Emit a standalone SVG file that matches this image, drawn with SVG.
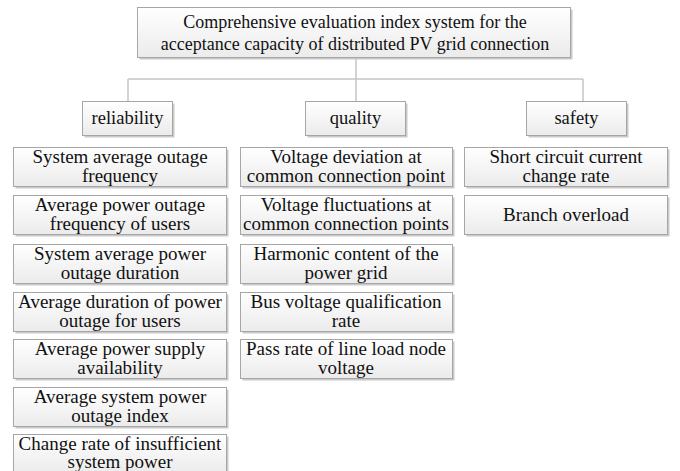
<svg xmlns="http://www.w3.org/2000/svg" width="680" height="471" viewBox="0 0 680 471" font-family="'Liberation Serif', 'Times New Roman', serif">
  <defs>
    <linearGradient id="boxFill" x1="0" y1="0" x2="0" y2="1">
      <stop offset="0" stop-color="#ffffff"/>
      <stop offset="1" stop-color="#ebebeb"/>
    </linearGradient>
    <style>
      .shadow { fill: #c9c9c9; }
      .box { fill: url(#boxFill); stroke: #a6a6a6; stroke-width: 1; }
      text { fill: #111; text-anchor: middle; }
      .label { font-size: 18px; }
      .cat { font-size: 18.5px; }
      .leaf { font-size: 19px; }
      .link { fill: none; stroke: #c4c4c4; stroke-width: 1.5; }
    </style>
  </defs>
  <rect width="680" height="471" fill="#ffffff"/>

  <!-- connectors -->
  <g id="connectors">
    <path class="link" d="M356 57 V101"/>
    <path class="link" d="M128 79 H583"/>
    <path class="link" d="M128 79 V101"/>
    <path class="link" d="M583 79 V101"/>
  </g>

  <!-- root -->
  <g id="root">
    <rect class="shadow" x="139.5" y="9.5" width="433" height="50"/>
    <rect class="box" x="137.5" y="7.5" width="433" height="50"/>
    <text class="label" x="355" y="28">Comprehensive evaluation index system for the</text>
    <text class="label" x="355" y="50">acceptance capacity of distributed PV grid connection</text>
  </g>

  <!-- categories -->
  <g id="reliability">
    <rect class="shadow" x="84.5" y="103.5" width="90" height="34"/>
    <rect class="box" x="82.5" y="101.5" width="90" height="34"/>
    <text class="cat" x="127.5" y="124">reliability</text>
  </g>
  <g id="quality">
    <rect class="shadow" x="307.5" y="103.5" width="100" height="34"/>
    <rect class="box" x="305.5" y="101.5" width="100" height="34"/>
    <text class="cat" x="355.5" y="124">quality</text>
  </g>
  <g id="safety">
    <rect class="shadow" x="528.5" y="103.5" width="100" height="34"/>
    <rect class="box" x="526.5" y="101.5" width="100" height="34"/>
    <text class="cat" x="576.5" y="124">safety</text>
  </g>

  <!-- reliability indicators -->
  <g id="r1">
    <rect class="shadow" x="15.5" y="149.5" width="213" height="39"/>
    <rect class="box" x="13.5" y="147.5" width="213" height="39"/>
    <text class="leaf" x="120" y="163">System average outage</text>
    <text class="leaf" x="120" y="182">frequency</text>
  </g>
  <g id="r2">
    <rect class="shadow" x="15.5" y="197.5" width="213" height="39"/>
    <rect class="box" x="13.5" y="195.5" width="213" height="39"/>
    <text class="leaf" x="120" y="211">Average power outage</text>
    <text class="leaf" x="120" y="230">frequency of users</text>
  </g>
  <g id="r3">
    <rect class="shadow" x="15.5" y="246.5" width="213" height="39"/>
    <rect class="box" x="13.5" y="244.5" width="213" height="39"/>
    <text class="leaf" x="120" y="260">System average power</text>
    <text class="leaf" x="120" y="279">outage duration</text>
  </g>
  <g id="r4">
    <rect class="shadow" x="15.5" y="294.5" width="213" height="39"/>
    <rect class="box" x="13.5" y="292.5" width="213" height="39"/>
    <text class="leaf" x="120" y="308">Average duration of power</text>
    <text class="leaf" x="120" y="327">outage for users</text>
  </g>
  <g id="r5">
    <rect class="shadow" x="15.5" y="341.5" width="213" height="39"/>
    <rect class="box" x="13.5" y="339.5" width="213" height="39"/>
    <text class="leaf" x="120" y="355">Average power supply</text>
    <text class="leaf" x="120" y="374">availability</text>
  </g>
  <g id="r6">
    <rect class="shadow" x="15.5" y="389.5" width="213" height="39"/>
    <rect class="box" x="13.5" y="387.5" width="213" height="39"/>
    <text class="leaf" x="120" y="403">Average system power</text>
    <text class="leaf" x="120" y="422">outage index</text>
  </g>
  <g id="r7">
    <rect class="shadow" x="15.5" y="436.5" width="213" height="39"/>
    <rect class="box" x="13.5" y="434.5" width="213" height="39"/>
    <text class="leaf" x="120" y="450">Change rate of insufficient</text>
    <text class="leaf" x="120" y="468">system power</text>
  </g>

  <!-- quality indicators -->
  <g id="q1">
    <rect class="shadow" x="242.5" y="149.5" width="212" height="39"/>
    <rect class="box" x="240.5" y="147.5" width="212" height="39"/>
    <text class="leaf" x="346" y="163">Voltage deviation at</text>
    <text class="leaf" x="346" y="182">common connection point</text>
  </g>
  <g id="q2">
    <rect class="shadow" x="242.5" y="197.5" width="212" height="39"/>
    <rect class="box" x="240.5" y="195.5" width="212" height="39"/>
    <text class="leaf" x="346" y="211">Voltage fluctuations at</text>
    <text class="leaf" x="346" y="230">common connection points</text>
  </g>
  <g id="q3">
    <rect class="shadow" x="242.5" y="246.5" width="212" height="39"/>
    <rect class="box" x="240.5" y="244.5" width="212" height="39"/>
    <text class="leaf" x="346" y="260">Harmonic content of the</text>
    <text class="leaf" x="346" y="279">power grid</text>
  </g>
  <g id="q4">
    <rect class="shadow" x="242.5" y="294.5" width="212" height="39"/>
    <rect class="box" x="240.5" y="292.5" width="212" height="39"/>
    <text class="leaf" x="346" y="308">Bus voltage qualification</text>
    <text class="leaf" x="346" y="327">rate</text>
  </g>
  <g id="q5">
    <rect class="shadow" x="242.5" y="341.5" width="212" height="39"/>
    <rect class="box" x="240.5" y="339.5" width="212" height="39"/>
    <text class="leaf" x="346" y="355">Pass rate of line load node</text>
    <text class="leaf" x="346" y="374">voltage</text>
  </g>

  <!-- safety indicators -->
  <g id="s1">
    <rect class="shadow" x="466.5" y="149.5" width="203" height="39"/>
    <rect class="box" x="464.5" y="147.5" width="203" height="39"/>
    <text class="leaf" x="566" y="163">Short circuit current</text>
    <text class="leaf" x="566" y="182">change rate</text>
  </g>
  <g id="s2">
    <rect class="shadow" x="466.5" y="197.5" width="203" height="39"/>
    <rect class="box" x="464.5" y="195.5" width="203" height="39"/>
    <text class="leaf" x="566" y="221">Branch overload</text>
  </g>
</svg>
